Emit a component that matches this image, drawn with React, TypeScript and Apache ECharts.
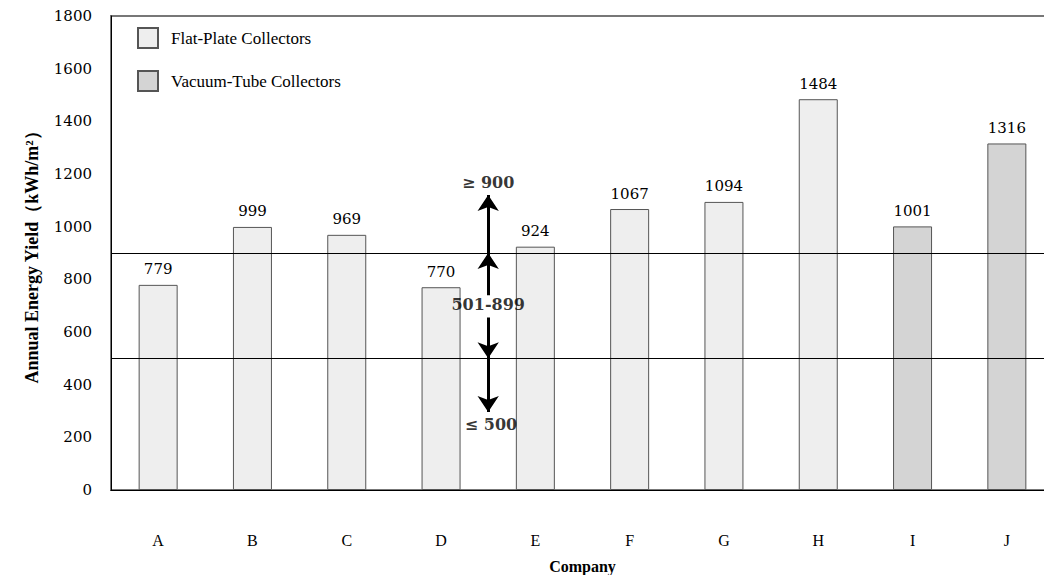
import React, { useEffect, useRef } from "react";
import * as echarts from "echarts";

const companies = ["A", "B", "C", "D", "E", "F", "G", "H", "I", "J"];
const flatPlate = [779, 999, 969, 770, 924, 1067, 1094, 1484, null, null];
const vacuumTube = [null, null, null, null, null, null, null, null, 1001, 1316];
const thresholds = [900, 500];
const yTicks = { min: 0, max: 1800, interval: 200 };
// arrows: [x (gap position), from, to]
const arrows: [number, number, number][] = [
  [4, 900, 1120],
  [4, 740, 900],
  [4, 655, 500],
  [4, 500, 296],
];
const rangeLabels: [number, number, string][] = [
  [4, 1166, "≥ 900"],
  [4, 706, "501-899"],
  [4.03, 247, "≤ 500"],
];

const serif = "'Liberation Serif', 'DejaVu Serif', serif";
const wideSerif = "'DejaVu Serif', 'Liberation Serif', serif";

export default function App() {
  const ref = useRef<HTMLDivElement>(null);
  useEffect(() => {
    document.body.style.margin = "0";
    const chart = echarts.init(ref.current!, undefined, { renderer: "svg" });
    chart.setOption({
      animation: false,
      backgroundColor: "#fff",
      textStyle: { fontFamily: serif },
      legend: {
        orient: "vertical",
        left: 132,
        top: 22,
        itemWidth: 20,
        itemHeight: 20,
        itemGap: 21,
        icon: "rect",
        textStyle: { fontFamily: serif, fontSize: 17, color: "#000", padding: [0, 0, 0, 8] },
        data: ["Flat-Plate Collectors", "Vacuum-Tube Collectors"],
      },
      grid: {
        left: 111,
        top: 16,
        width: 943,
        bottom: 85,
        outerBoundsMode: "none",
        containLabel: false,
        show: true,
        borderColor: "#777",
        borderWidth: 2,
        backgroundColor: "transparent",
      },
      xAxis: [
        {
          type: "category",
          data: companies,
          name: "Company",
          nameLocation: "middle",
          nameGap: 68,
          nameTextStyle: { fontFamily: serif, fontSize: 16, fontWeight: "bold", color: "#000" },
          axisLine: { lineStyle: { color: "#000", width: 1 } },
          axisTick: { show: false },
          axisLabel: { margin: 42, fontFamily: serif, fontSize: 16, color: "#000" },
        },
        {
          type: "value",
          min: 0,
          max: 10,
          show: false,
        },
      ],
      yAxis: {
        type: "value",
        min: yTicks.min,
        max: yTicks.max,
        interval: yTicks.interval,
        name: "Annual Energy Yield（kWh/m²）",
        nameLocation: "middle",
        nameGap: 70,
        nameTextStyle: { fontFamily: serif, fontSize: 18, fontWeight: "bold", color: "#000" },
        axisLine: { show: true, lineStyle: { color: "#000", width: 1 } },
        axisTick: { show: false },
        splitLine: { show: false },
        axisLabel: {
          margin: 19,
          fontFamily: wideSerif,
          fontSize: 15,
          color: "#000",
          formatter: (v: number) => String(v),
        },
      },
      series: [
        {
          name: "Flat-Plate Collectors",
          type: "bar",
          data: flatPlate,
          barWidth: 39,
          barGap: "-100%",
          itemStyle: { color: "#eeeeee", borderColor: "#555", borderWidth: 1 },
          label: {
            show: true,
            position: "top",
            distance: 8,
            fontFamily: wideSerif,
            fontSize: 15,
            color: "#000",
          },
          markLine: {
            silent: true,
            symbol: "none",
            label: { show: false },
            lineStyle: { color: "#000", width: 1, type: "solid" },
            data: thresholds.map((v) => ({ yAxis: v })),
          },
        },
        {
          name: "Vacuum-Tube Collectors",
          type: "bar",
          data: vacuumTube,
          barWidth: 39,
          barGap: "-100%",
          itemStyle: { color: "#d4d4d4", borderColor: "#555", borderWidth: 1 },
          label: {
            show: true,
            position: "top",
            distance: 8,
            fontFamily: wideSerif,
            fontSize: 15,
            color: "#000",
          },
        },
        {
          type: "lines",
          coordinateSystem: "cartesian2d",
          xAxisIndex: 1,
          silent: true,
          symbol: ["none", "arrow"],
          symbolSize: [12, 16],
          lineStyle: { color: "#000", width: 3, opacity: 1 },
          data: arrows.map(([x, a, b]) => ({ coords: [[x, a], [x, b]] })),
          z: 5,
        },
        {
          type: "scatter",
          xAxisIndex: 1,
          symbolSize: 0,
          silent: true,
          data: rangeLabels.map(([x, y, t]) => ({ value: [x, y], name: t })),
          label: {
            show: true,
            position: "inside",
            formatter: (p: any) => p.name,
            fontFamily: wideSerif,
            fontSize: 16,
            fontWeight: "bold",
            color: "#000",
          },
          z: 6,
        },
      ],
    });
    return () => chart.dispose();
  }, []);
  return <div ref={ref} style={{ width: 1044, height: 575 }} />;
}
